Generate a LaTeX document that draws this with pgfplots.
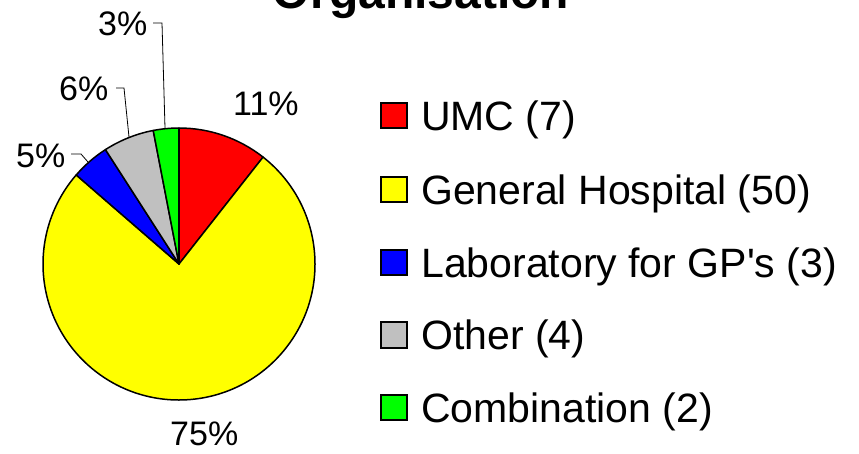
\documentclass[border=0pt]{standalone}
\usepackage{fontspec}
\setmainfont{Liberation Sans}
\usepackage{pgfplots}
\usepackage{pgfplotstable}
\pgfplotsset{compat=1.18}

\definecolor{umc}{HTML}{FF0000}
\definecolor{hosp}{HTML}{FFFF00}
\definecolor{lab}{HTML}{0000FF}
\definecolor{other}{HTML}{C0C0C0}
\definecolor{comb}{HTML}{00FF00}

% organisation counts, clockwise from 12 o'clock
\pgfplotstableread{
name value fillcol
UMC 7 umc
Hospital 50 hosp
Lab 3 lab
Other 4 other
Combination 2 comb
}\piedata

\tikzset{
  pct/.style={anchor=base west, inner sep=0pt, font=\fontsize{34}{40}\selectfont},
  leg/.style={anchor=base west, inner sep=0pt, font=\fontsize{41}{48}\selectfont},
  box/.style={draw=black, line width=1.2pt},
}

\begin{document}
\begin{tikzpicture}
\useasboundingbox (0,0) rectangle (859pt,453pt);

% total of all slices
\def\total{0}
\pgfplotsforeachungrouped \i in {0,...,4}{%
  \pgfplotstablegetelem{\i}{value}\of\piedata
  \pgfmathsetmacro\total{\total+\pgfplotsretval}%
}

\begin{axis}[
  x=1pt, y=1pt,
  xmin=0, xmax=859, ymin=0, ymax=453,
  y dir=reverse,
  hide axis, clip=false,
  at={(0,0)}, anchor=south west]

  \def\startangle{90}
  \pgfplotsforeachungrouped \i in {0,...,4}{%
    \pgfplotstablegetelem{\i}{value}\of\piedata \let\sliceval\pgfplotsretval
    \pgfplotstablegetelem{\i}{fillcol}\of\piedata \let\slicecol\pgfplotsretval
    \pgfmathsetmacro\endangle{\startangle-360*(\sliceval/\total)}%
    \edef\temp{\noexpand\filldraw[fill=\slicecol, draw=black, line width=1.5pt, line join=round]
      (axis cs:179,264) -- ++(\startangle:136pt)
      arc[start angle=\startangle, end angle=\endangle, radius=136pt] -- cycle;}%
    \temp
    \global\let\startangle\endangle
  }

  % leader lines
  \draw[line width=0.8pt] (axis cs:153,23) -- (axis cs:162,23) -- (axis cs:165,128);
  \draw[line width=0.8pt] (axis cs:116,88) -- (axis cs:124,88) -- (axis cs:129,137);
  \draw[line width=0.8pt] (axis cs:71,154) -- (axis cs:81,154) -- (axis cs:88,162);

  % percentage labels
  \node[pct] at (axis cs:98,35) {3\%};
  \node[pct] at (axis cs:59,100) {6\%};
  \node[pct] at (axis cs:16,167) {5\%};
  \node[pct] at (axis cs:233,115) {11\%};
  \node[pct] at (axis cs:170,445) {75\%};

  % title (top is cut off in the original)
  \node[anchor=base, inner sep=0pt, font=\bfseries\fontsize{48}{58}\selectfont]
    at (axis cs:421,8) {Organisation};

  % legend
  \draw[box, fill=umc] (axis cs:381,103) rectangle (axis cs:407,128);
  \node[leg] at (axis cs:421,130) {UMC (7)};
  \draw[box, fill=hosp] (axis cs:381,177) rectangle (axis cs:407,202);
  \node[leg] at (axis cs:421,204) {General Hospital (50)};
  \draw[box, fill=lab] (axis cs:381,250) rectangle (axis cs:407,275);
  \node[leg] at (axis cs:421,277) {Laboratory for GP\textquotesingle s (3)};
  \draw[box, fill=other] (axis cs:381,322) rectangle (axis cs:407,348);
  \node[leg] at (axis cs:421,349) {Other (4)};
  \draw[box, fill=comb] (axis cs:381,395) rectangle (axis cs:407,420);
  \node[leg] at (axis cs:421,422) {Combination (2)};
\end{axis}
\end{tikzpicture}
\end{document}
